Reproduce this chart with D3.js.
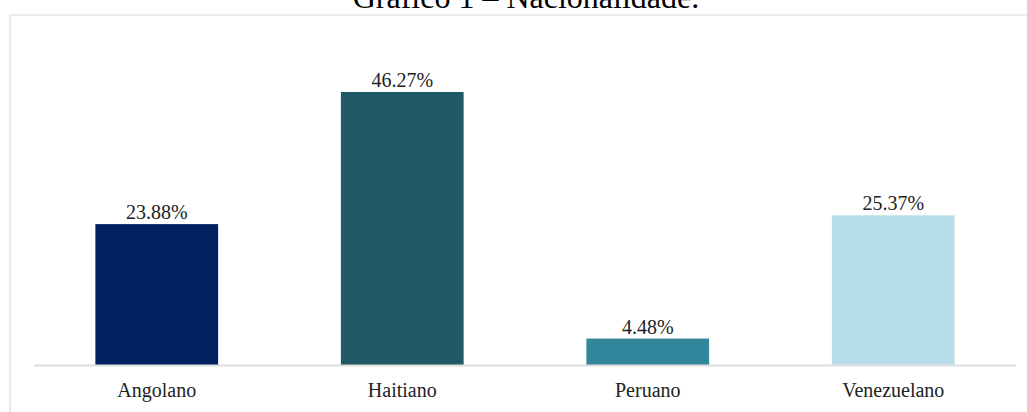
<!DOCTYPE html>
<html>
<head>
<meta charset="utf-8">
<script src="https://cdn.jsdelivr.net/npm/d3@7"></script>
<style>
  body { margin: 0; background: #fff; }
  svg { display: block; font-family: 'Liberation Serif', 'Times New Roman', serif; }
</style>
</head>
<body>
<svg></svg>
<script>
// dados do gráfico
const categorias = ['Angolano', 'Haitiano', 'Peruano', 'Venezuelano'];
const valores = [23.88, 46.27, 4.48, 25.37];
const cores = ['#002060', '#215967', '#31869b', '#b7dee8'];

const W = 1027, H = 412;
const svg = d3.select('svg').attr('width', W).attr('height', H);

// moldura do gráfico
svg.append('path')
  .attr('d', `M10,${H} L10,15 L${W},15`)
  .attr('fill', 'none')
  .attr('stroke', '#ebebeb')
  .attr('stroke-width', 2);

// título (cortado no topo)
svg.append('text')
  .attr('x', 526)
  .attr('y', 8)
  .attr('text-anchor', 'middle')
  .attr('font-size', '32px')
  .attr('fill', '#000')
  .text('Gráfico 1 – Nacionalidade.');

const x = d3.scaleBand()
  .domain(categorias)
  .range([34, 1016])
  .paddingInner(0.5)
  .paddingOuter(0.25);

const y = d3.scaleLinear()
  .domain([0, 46.27])
  .range([365, 92]);

const g = svg.append('g');

g.selectAll('rect')
  .data(valores)
  .enter()
  .append('rect')
  .attr('x', (d, i) => x(categorias[i]))
  .attr('y', (d) => y(d))
  .attr('width', x.bandwidth())
  .attr('height', (d) => y(0) - y(d))
  .attr('fill', (d, i) => cores[i]);

// linha base
svg.append('line')
  .attr('x1', 34)
  .attr('x2', 1016)
  .attr('y1', y(0) + 0.5)
  .attr('y2', y(0) + 0.5)
  .attr('stroke', '#dedede')
  .attr('stroke-width', 2);

// rótulos de valor
g.selectAll('.valor')
  .data(valores)
  .enter()
  .append('text')
  .attr('class', 'valor')
  .attr('x', (d, i) => x(categorias[i]) + x.bandwidth() / 2)
  .attr('y', (d) => y(d) - 5)
  .attr('text-anchor', 'middle')
  .attr('font-size', '20px')
  .attr('fill', '#222')
  .text((d) => d.toFixed(2) + '%');

// eixo x (só rótulos)
const eixo = svg.append('g')
  .attr('transform', `translate(0,${y(0)})`)
  .call(d3.axisBottom(x).tickSize(0).tickPadding(0));
eixo.select('.domain').remove();
eixo.selectAll('text')
  .attr('dy', null)
  .attr('y', 32)
  .attr('font-size', '20px')
  .attr('font-family', "'Liberation Serif', 'Times New Roman', serif")
  .attr('fill', '#222');
</script>
</body>
</html>
